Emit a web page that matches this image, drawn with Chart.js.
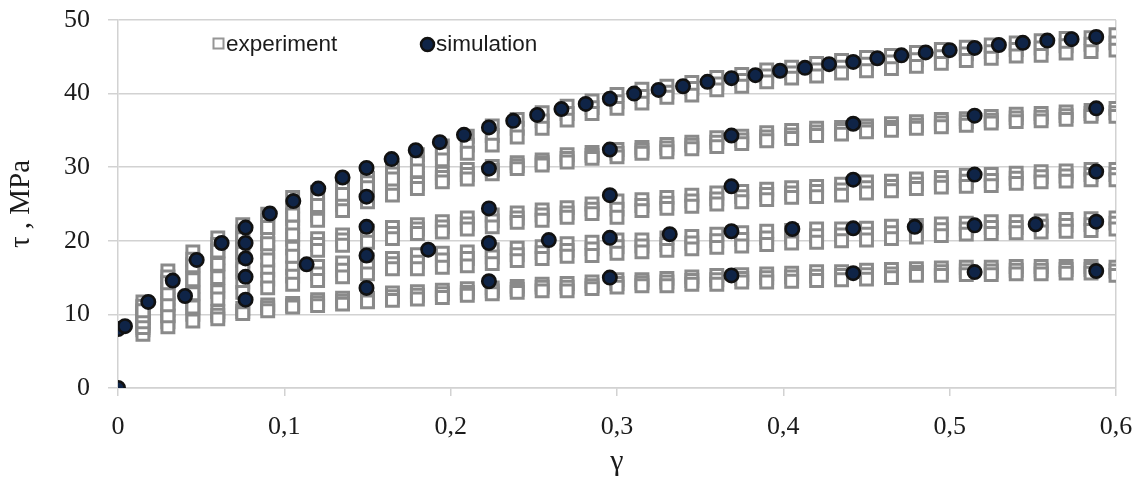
<!DOCTYPE html>
<html>
<head>
<meta charset="utf-8">
<script src="https://cdn.jsdelivr.net/npm/chart.js@4.4.1/dist/chart.umd.min.js"></script>
<style>
  html, body { margin: 0; padding: 0; background: #ffffff; }
  #wrap { width: 1139px; height: 483px; position: relative; }
</style>
</head>
<body>
<div id="wrap"><canvas id="c"></canvas></div>
<script>
// ---------- data ----------
const xTickLabels = ['0', '0,1', '0,2', '0,3', '0,4', '0,5', '0,6'];
const yTicks = [0, 10, 20, 30, 40, 50];
const legendLabels = ['experiment', 'simulation'];

// experiment: strain columns
const expX = [0.015,0.03,0.045,0.06,0.075,0.09,0.105,0.12,0.135,0.15,0.165,0.18,0.195,0.21,0.225,0.24,0.255,0.27,0.285,0.3,
              0.315,0.33,0.345,0.36,0.375,0.39,0.405,0.42,0.435,0.45,0.465,0.48,0.495,0.51,0.525,0.54,0.555,0.57,0.585,0.6];

// curve A (highest)
const aLo  = [10.5,14.3,16.6,18.6,20.3,21.8,23.5,24.8,26.3,27.2,28.4,29.5,31.0,31.9,33.0,34.1,35.3,36.4,37.3,38.0,
              38.7,39.5,39.8,40.5,41.0,41.6,42.1,42.4,42.8,43.1,43.4,43.7,44.1,44.5,44.8,45.1,45.2,45.5,45.7,45.9];
const aMid = [11.1,15.1,17.5,19.5,21.2,22.7,24.7,25.6,27.1,27.9,29.1,30.6,31.9,33.0,34.3,35.3,36.3,37.3,38.1,38.9,
              39.6,40.2,40.7,41.3,41.8,42.4,42.8,43.2,43.6,44.0,44.3,44.6,45.0,45.4,45.7,46.0,46.2,46.5,46.7,46.9];
const aHi  = [11.7,15.9,18.5,20.4,22.2,23.6,25.9,26.6,27.9,28.5,29.9,31.7,32.9,34.2,35.6,36.5,37.4,38.3,39.0,39.9,
              40.6,41.0,41.5,42.2,42.6,43.2,43.6,44.1,44.5,44.9,45.2,45.6,46.0,46.3,46.6,46.9,47.2,47.5,47.6,48.0];
// curve B
const bLo  = [9.8,12.8,14.7,16.8,18.3,19.6,20.8,22.8,24.1,25.3,26.2,27.1,28.0,28.4,29.1,29.8,30.3,30.7,31.2,31.4,
              31.9,32.1,32.5,32.8,33.2,33.6,33.9,34.3,34.5,34.8,35.0,35.3,35.5,35.7,36.0,36.2,36.3,36.5,36.9,36.9];
const bMid = [10.4,13.6,15.8,17.7,19.3,20.7,21.9,23.5,24.9,25.9,26.9,27.8,28.6,29.0,29.6,30.2,30.6,31.2,31.6,31.9,
              32.3,32.6,33.0,33.4,33.7,34.1,34.4,34.8,35.0,35.2,35.4,35.7,36.0,36.2,36.4,36.7,36.8,37.0,37.3,37.4];
const bHi  = [11.0,14.5,16.8,18.7,20.4,21.8,23.0,24.3,25.8,26.6,27.6,28.5,29.2,29.7,30.1,30.6,31.0,31.7,32.0,32.4,
              32.7,33.1,33.4,34.0,34.2,34.7,35.0,35.3,35.4,35.6,35.9,36.2,36.5,36.6,36.9,37.2,37.3,37.5,37.7,38.0];
// curve C
const cLo  = [9.0,11.3,12.8,15.0,16.2,17.4,17.9,18.7,19.4,19.8,20.3,21.0,21.2,21.6,21.9,22.5,22.8,23.2,23.7,23.2,
              24.1,24.4,24.7,25.0,25.3,25.6,25.9,26.0,26.2,26.5,26.8,27.1,27.3,27.4,27.5,27.8,28.0,28.1,28.3,28.3];
const cMid = [9.6,12.1,13.8,15.9,17.3,18.5,19.0,19.5,20.1,20.5,21.0,21.6,21.9,22.3,22.7,23.1,23.5,23.8,24.3,24.3,
              24.8,25.1,25.4,25.7,26.0,26.3,26.5,26.7,26.9,27.2,27.4,27.7,27.9,28.1,28.2,28.5,28.7,28.8,29.0,29.0];
const cHi  = [10.2,13.0,14.9,16.9,18.4,19.6,20.2,20.3,20.8,21.3,21.8,22.2,22.6,23.1,23.5,23.8,24.2,24.5,25.0,25.4,
              25.6,25.9,26.2,26.5,26.7,27.0,27.2,27.4,27.7,28.0,28.1,28.4,28.6,28.9,29.0,29.2,29.4,29.5,29.7,29.7];
// curve D
const dLo  = [8.2,9.8,11.0,12.1,13.0,13.6,14.1,14.6,15.1,15.5,16.2,16.2,16.4,16.6,16.9,17.3,17.6,17.9,18.0,18.3,
              18.5,18.7,18.9,19.1,19.3,19.5,19.7,19.8,20.0,20.1,20.3,20.5,20.7,20.9,21.0,21.1,21.2,21.3,21.4,21.6];
const dMid = [8.8,10.6,12.0,13.1,14.4,14.8,15.2,15.5,16.0,16.4,16.9,17.1,17.4,17.6,17.8,18.1,18.4,18.7,18.9,19.2,
              19.3,19.5,19.7,20.0,20.2,20.4,20.5,20.7,20.8,20.9,21.1,21.3,21.5,21.6,21.8,21.8,22.0,22.1,22.2,22.4];
const dHi  = [9.5,11.5,13.0,14.0,15.8,16.0,16.3,16.5,17.0,17.4,17.6,18.1,18.3,18.5,18.8,19.0,19.2,19.6,19.8,20.1,
              20.1,20.4,20.6,20.9,21.1,21.3,21.4,21.6,21.6,21.7,22.0,22.1,22.3,22.4,22.6,22.6,22.7,22.9,23.0,23.1];
// curve E (lowest)
const eLo  = [7.3,8.3,9.1,9.4,10.1,10.5,11.0,11.2,11.4,11.7,11.9,12.1,12.3,12.6,12.8,13.0,13.2,13.2,13.5,13.7,
              13.9,13.9,14.1,14.1,14.4,14.4,14.5,14.6,14.7,14.8,15.0,15.3,15.3,15.4,15.4,15.5,15.5,15.6,15.6,15.3];
const eMid = [7.9,9.0,10.0,9.9,10.4,10.9,11.2,11.6,11.8,11.9,12.4,12.6,12.8,13.0,13.2,13.4,13.7,13.7,13.9,14.2,
              14.3,14.4,14.6,14.7,14.9,15.0,15.1,15.2,15.3,15.4,15.5,15.7,15.8,15.9,15.9,16.0,16.0,16.1,16.1,15.9];
const eHi  = [8.5,9.8,11.0,10.4,10.8,11.3,11.5,12.0,12.2,12.2,12.9,13.1,13.3,13.5,13.6,13.8,14.1,14.2,14.4,14.7,
              14.7,14.9,15.1,15.3,15.4,15.5,15.6,15.8,15.8,16.0,16.1,16.2,16.3,16.4,16.4,16.5,16.5,16.5,16.5,16.4];

// simulation points
const simX = [0,0,0.0042,0.0182,0.0329,0.0403,0.0473,0.0623,
              0.0767,0.0767,0.0767,0.0767,0.0767,0.0913,0.1054,0.1134,0.1204,0.135,
              0.1494,0.1494,0.1494,0.1494,0.1494,0.1645,0.179,0.1865,0.1935,0.208,
              0.223,0.223,0.223,0.223,0.223,0.2376,0.252,0.259,0.2666,0.2812,
              0.2957,0.2957,0.2957,0.2957,0.2957,0.3103,0.325,0.3317,0.3397,0.3544,
              0.3688,0.3688,0.3688,0.3688,0.3688,0.3832,0.398,0.4054,0.413,0.4275,
              0.442,0.442,0.442,0.442,0.442,0.4565,0.471,0.479,0.4856,0.5,
              0.515,0.515,0.515,0.515,0.515,0.5296,0.544,0.5517,0.5587,0.5733,
              0.5881,0.5881,0.5881,0.5881,0.5881];
const simY = [0,8.0,8.4,11.7,14.6,12.5,17.4,19.7,
              21.8,19.7,17.6,15.1,12.0,23.7,25.4,16.8,27.1,28.6,
              29.9,26.0,21.9,18.0,13.6,31.1,32.3,18.8,33.4,34.4,
              35.4,29.8,24.4,19.7,14.5,36.3,37.1,20.1,37.9,38.6,
              39.3,32.4,26.2,20.4,15.0,40.0,40.5,20.9,41.0,41.6,
              42.1,34.3,27.4,21.3,15.3,42.5,43.1,21.6,43.5,44.0,
              44.3,35.9,28.3,21.7,15.6,44.8,45.2,21.9,45.6,45.9,
              46.2,37.0,29.0,22.1,15.75,46.6,46.9,22.25,47.2,47.4,
              47.7,38.0,29.4,22.6,15.9];

// ---------- build datasets ----------
const curves = [[eHi,eMid,eLo],[dHi,dMid,dLo],[cHi,cMid,cLo],[bHi,bMid,bLo],[aHi,aMid,aLo]];
const expPoints = [];
expX.forEach((x, k) => {
  curves.forEach(reps => reps.forEach(arr => expPoints.push({x: x, y: arr[k]})));
});
const simPoints = simX.map((x, i) => ({x: x, y: simY[i]}));

const GRID = '#d2d2d2';
const EXP_COL = '#8a8a8a';
const SIM_FILL = '#0f2447';
const SIM_BORDER = '#111111';
const TXT = '#1b1b1b';
const SERIF = '"Liberation Serif", "DejaVu Serif", serif';
const SANS = '"Liberation Sans", Arial, sans-serif';

const legendPlugin = {
  id: 'customLegend',
  afterDraw(chart) {
    const ctx = chart.ctx;
    ctx.save();
    // experiment
    ctx.strokeStyle = '#969696';
    ctx.lineWidth = 2;
    ctx.fillStyle = '#ffffff';
    ctx.fillRect(213.5, 38.5, 10, 10);
    ctx.strokeRect(213.5, 38.5, 10, 10);
    ctx.fillStyle = TXT;
    ctx.font = '22.5px ' + SANS;
    ctx.textBaseline = 'alphabetic';
    ctx.textAlign = 'left';
    ctx.fillText(legendLabels[0], 226, 50.5);
    // simulation
    ctx.beginPath();
    ctx.arc(427.5, 44.5, 6.5, 0, Math.PI * 2);
    ctx.fillStyle = SIM_FILL;
    ctx.fill();
    ctx.lineWidth = 2.5;
    ctx.strokeStyle = SIM_BORDER;
    ctx.stroke();
    ctx.fillStyle = TXT;
    ctx.fillText(legendLabels[1], 436, 50.5);
    ctx.restore();
  }
};

new Chart(document.getElementById('c'), {
  type: 'scatter',
  data: {
    datasets: [
      {
        label: legendLabels[1],
        data: simPoints,
        pointStyle: 'circle',
        radius: 6.7,
        hoverRadius: 6.7,
        backgroundColor: SIM_FILL,
        borderColor: SIM_BORDER,
        borderWidth: 2.6,
        hoverBorderWidth: 2.6
      },
      {
        label: legendLabels[0],
        data: expPoints,
        pointStyle: 'rect',
        radius: 8.4,
        hoverRadius: 8.4,
        backgroundColor: '#ffffff',
        borderColor: EXP_COL,
        borderWidth: 3,
        hoverBorderWidth: 3
      }
    ]
  },
  plugins: [legendPlugin],
  options: {
    responsive: true,
    maintainAspectRatio: false,
    animation: false,
    events: [],
    layout: { padding: { top: 20, right: 23, left: 0, bottom: 0 } },
    plugins: {
      legend: { display: false },
      tooltip: { enabled: false }
    },
    scales: {
      x: {
        type: 'linear',
        min: 0,
        max: 0.6,
        afterFit(scale) {
          scale.height = 95;
          scale.paddingLeft = 0;
          scale.paddingRight = 0;
        },
        afterBuildTicks(scale) {
          scale.ticks = xTickLabels.map((_, i) => ({ value: i / 10 }));
        },
        ticks: {
          callback: (v, i) => xTickLabels[i],
          color: TXT,
          font: { family: SERIF, size: 26 },
          padding: 16,
          maxRotation: 0,
          autoSkip: false
        },
        grid: {
          drawOnChartArea: true,
          color: ctx => (ctx.tick && Math.abs(ctx.tick.value - 0.6) < 1e-9) ? GRID : 'rgba(0,0,0,0)',
          tickColor: GRID,
          tickLength: 8,
          lineWidth: 1.5
        },
        border: { display: true, color: GRID, width: 1.5 },
        title: {
          display: true,
          text: 'γ',
          color: TXT,
          font: { family: SERIF, size: 30 },
          padding: { top: 0, bottom: 3 }
        }
      },
      y: {
        type: 'linear',
        min: 0,
        max: 50,
        afterFit(scale) {
          scale.width = 118;
          scale.paddingTop = 0;
          scale.paddingBottom = 0;
        },
        afterBuildTicks(scale) {
          scale.ticks = yTicks.map(v => ({ value: v }));
        },
        ticks: {
          color: TXT,
          font: { family: SERIF, size: 26 },
          padding: 18
        },
        grid: {
          color: GRID,
          tickColor: GRID,
          tickLength: 10,
          lineWidth: 1.5
        },
        border: { display: true, color: GRID, width: 1.5 },
        title: {
          display: true,
          text: 'τ , MPa',
          color: TXT,
          font: { family: SERIF, size: 29 },
          padding: { top: 4, bottom: 0 }
        }
      }
    }
  }
});
</script>
</body>
</html>
